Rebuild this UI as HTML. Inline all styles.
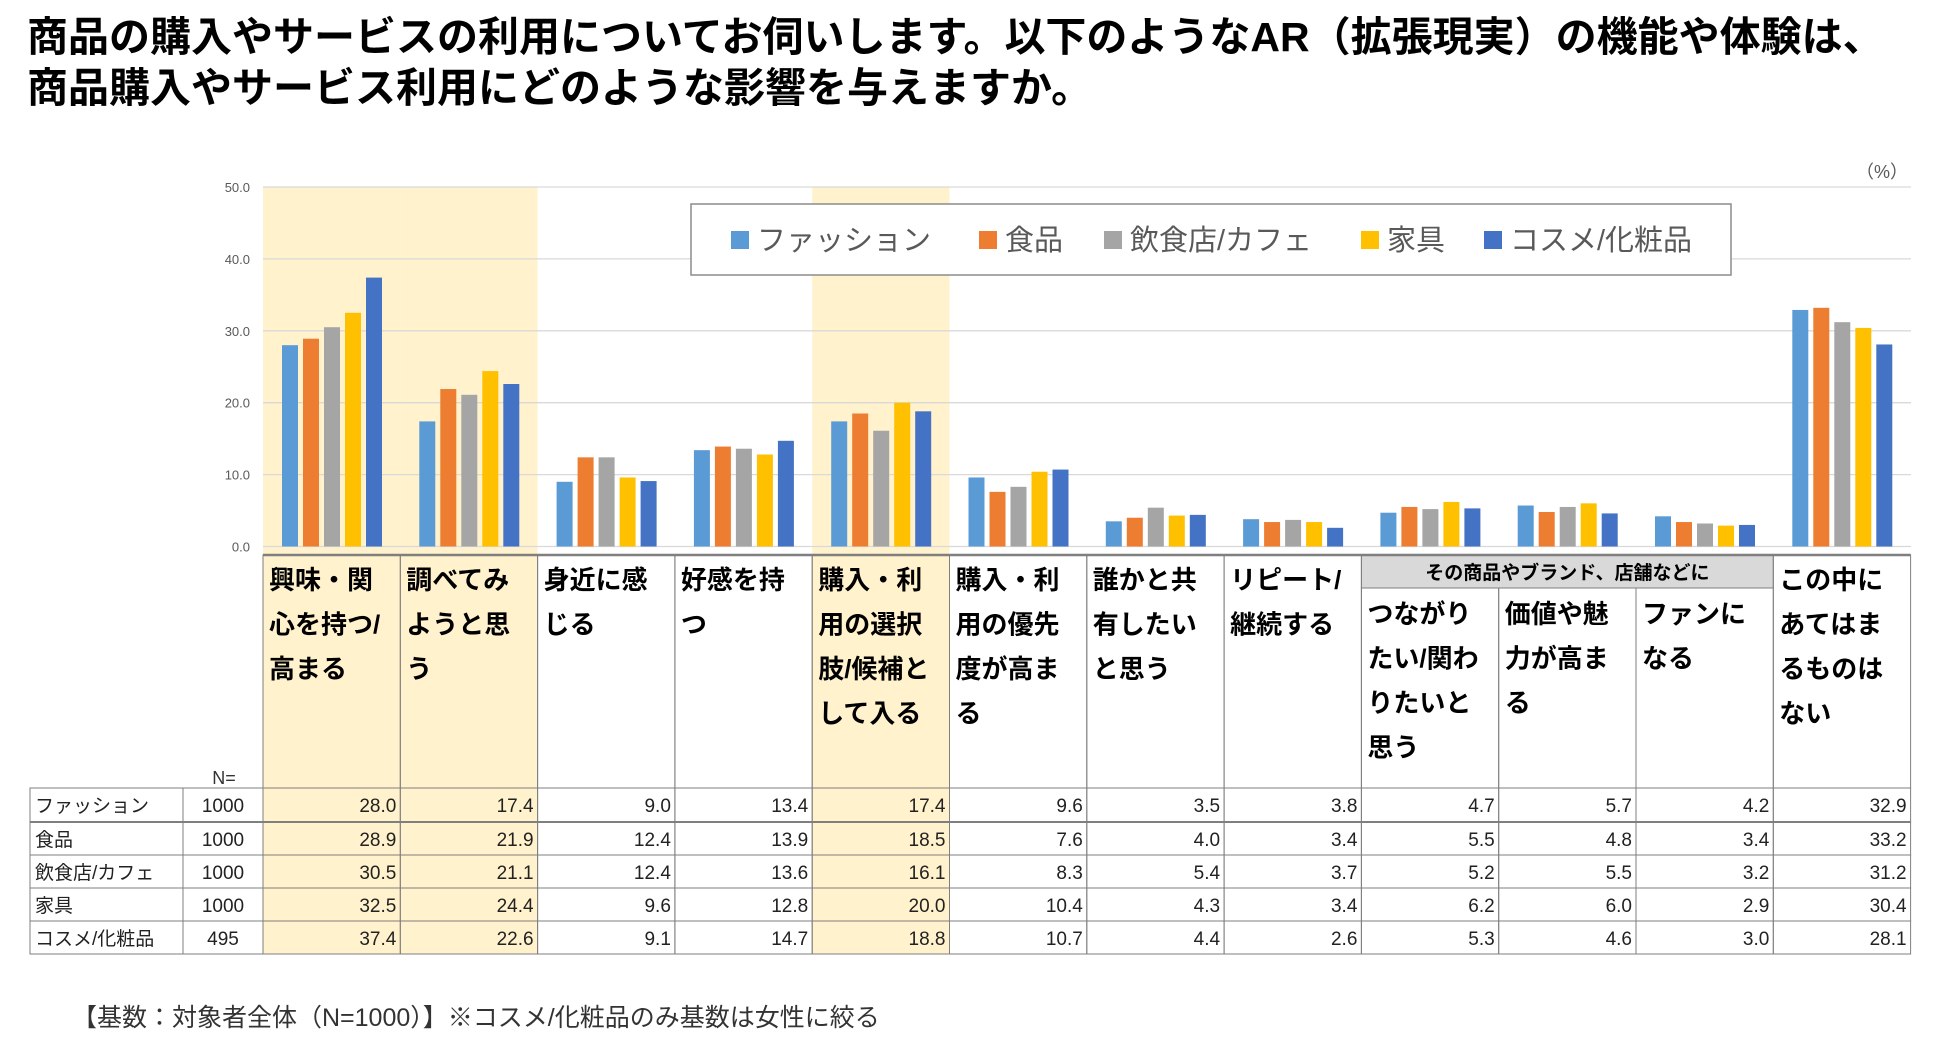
<!DOCTYPE html>
<html><head><meta charset="utf-8"><style>
body{margin:0;background:#fff;}
svg{display:block;font-family:"Liberation Sans","Noto Sans CJK JP",sans-serif;}
</style></head><body>
<svg id="c" width="1950" height="1043" viewBox="0 0 1950 1043" xmlns="http://www.w3.org/2000/svg">
<text x="27" y="51" font-size="41" font-weight="bold" fill="#000">商品の購入やサービスの利用についてお伺いします。以下のようなAR（拡張現実）の機能や体験は、</text>
<text x="27" y="102" font-size="41" font-weight="bold" fill="#000">商品購入やサービス利用にどのような影響を与えますか。</text>
<text x="1908" y="178" font-size="18" fill="#595959" text-anchor="end">（%）</text>
<g id="bg"></g><g id="grid"></g><g id="bars"></g><g id="table"></g>
<g>
<rect x="691" y="204" width="1040" height="71" fill="#fff" stroke="#8c8c8c" stroke-width="1.5"/>
<g id="legend"></g>
</g>
<text x="72" y="1026" font-size="25" fill="#333">【基数：対象者全体（N=1000）】※コスメ/化粧品のみ基数は女性に絞る</text>
</svg>
<script>
const categories=["興味・関心を持つ/高まる","調べてみようと思う","身近に感じる","好感を持つ","購入・利用の選択肢/候補として入る","購入・利用の優先度が高まる","誰かと共有したいと思う","リピート/継続する","つながりたい/関わりたいと思う","価値や魅力が高まる","ファンになる","この中にあてはまるものはない"];
const headerLines=[["興味・関","心を持つ/","高まる"],["調べてみ","ようと思","う"],["身近に感","じる"],["好感を持","つ"],["購入・利","用の選択","肢/候補と","して入る"],["購入・利","用の優先","度が高ま","る"],["誰かと共","有したい","と思う"],["リピート/","継続する"],["つながり","たい/関わ","りたいと","思う"],["価値や魅","力が高ま","る"],["ファンに","なる"],["この中に","あてはま","るものは","ない"]];
const seriesNames=["ファッション","食品","飲食店/カフェ","家具","コスメ/化粧品"];
const seriesN=[1000,1000,1000,1000,495];
const fashion=[28.0,17.4,9.0,13.4,17.4,9.6,3.5,3.8,4.7,5.7,4.2,32.9];
const food=[28.9,21.9,12.4,13.9,18.5,7.6,4.0,3.4,5.5,4.8,3.4,33.2];
const cafe=[30.5,21.1,12.4,13.6,16.1,8.3,5.4,3.7,5.2,5.5,3.2,31.2];
const furniture=[32.5,24.4,9.6,12.8,20.0,10.4,4.3,3.4,6.2,6.0,2.9,30.4];
const cosme=[37.4,22.6,9.1,14.7,18.8,10.7,4.4,2.6,5.3,4.6,3.0,28.1];
const yTicks=[0,10,20,30,40,50];
const highlighted=[0,1,4];
const groupLabel="その商品やブランド、店舗などに";
const groupCols=[8,9,10];

const series=[fashion,food,cafe,furniture,cosme];
const colors=["#5B9BD5","#ED7D31","#A5A5A5","#FFC000","#4472C4"];
const NS="http://www.w3.org/2000/svg";
const X0=263,CW=137.3,Y0=546.5,Y50=187;
const yScale=v=>Y0-(v/50)*(Y0-Y50);
const xCol=i=>X0+i*CW;
const TT=555,RH=[788,822,855,888,921,954];
function mk(tag,attrs,parent,txt){const e=document.createElementNS(NS,tag);for(const k in attrs)e.setAttribute(k,attrs[k]);if(txt!==undefined)e.textContent=txt;parent.appendChild(e);return e;}
const bg=document.getElementById('bg'),grid=document.getElementById('grid'),bars=document.getElementById('bars'),tbl=document.getElementById('table'),leg=document.getElementById('legend');
highlighted.forEach(i=>{
 const r=mk('rect',{x:xCol(i),y:Y50,width:CW,height:RH[5]-Y50,fill:"#FFF2CC"},bg);
 
 
});
yTicks.forEach(t=>{
 const y=yScale(t);
 const l=mk('line',{x1:X0,x2:1911,y1:y,y2:y,stroke:"#d9d9d9","stroke-width":1.3},grid);
 
 
 const tx=mk('text',{x:250,y:y+5,"font-size":13,fill:"#595959","text-anchor":"end"},grid,t.toFixed(1));
 
 
});
categories.forEach((c,i)=>{
 series.forEach((s,k)=>{
  const y=yScale(s[i]);
  const r=mk('rect',{x:xCol(i)+19+k*21,y:y,width:16,height:Y0-y,fill:colors[k]},bars);
  
  
 });
});
const gx=xCol(groupCols[0]),gw=CW*groupCols.length;
const gr=mk('rect',{x:gx,y:TT,width:gw,height:33,fill:"#D9D9D9",stroke:"#7f7f7f","stroke-width":1},tbl);


const gt=mk('text',{x:gx+gw/2,y:TT+24,"font-size":19,"font-weight":"bold",fill:"#000","text-anchor":"middle"},tbl,groupLabel);


categories.forEach((c,i)=>{
 const inG=groupCols.includes(i);
 const top=inG?TT+33:TT;
 const r=mk('rect',{x:xCol(i),y:top,width:CW,height:RH[0]-top,fill:"none",stroke:"#7f7f7f","stroke-width":1},tbl);
 
 
 headerLines[i].forEach((ln,j)=>{
  const t=mk('text',{x:xCol(i)+6,y:(inG?623:589)+j*44.5,"font-size":26,"font-weight":"bold",fill:"#000"},tbl,ln);
  
  
 });
});
const tl=mk('line',{x1:X0,x2:xCol(12),y1:TT,y2:TT,stroke:"#7f7f7f","stroke-width":2.5},tbl);


const nl=mk('text',{x:224,y:784,"font-size":18,fill:"#333","text-anchor":"middle"},tbl,"N=");


seriesNames.forEach((nm,k)=>{
 const y=RH[k],h=RH[k+1]-RH[k];
 const cells=[[30,153],[183,80]];
 cells.forEach(([x,w])=>{const r=mk('rect',{x:x,y:y,width:w,height:h,fill:"none",stroke:"#7f7f7f","stroke-width":1},tbl);
  
  });
 const a=mk('text',{x:35,y:y+24,"font-size":19,fill:"#222"},tbl,nm);
 
 
 const b=mk('text',{x:223,y:y+24,"font-size":19,fill:"#222","text-anchor":"middle"},tbl,String(seriesN[k]));
 
 
 categories.forEach((c,i)=>{
  const r=mk('rect',{x:xCol(i),y:y,width:CW,height:h,fill:"none",stroke:"#7f7f7f","stroke-width":1},tbl);
  
  
  const t=mk('text',{x:xCol(i)+CW-4,y:y+24,"font-size":19,fill:"#222","text-anchor":"end"},tbl,series[k][i].toFixed(1));
  
  
 });
});
const sep=mk('line',{x1:30,x2:xCol(12),y1:RH[1],y2:RH[1],stroke:"#7f7f7f","stroke-width":2},tbl);


const lx=[731,979,1104,1361,1484];
seriesNames.forEach((nm,k)=>{
 const r=mk('rect',{x:lx[k],y:231,width:18,height:18,fill:colors[k]},leg);
 
 
 const t=mk('text',{x:lx[k]+26,y:250,"font-size":29,fill:"#595959"},leg,nm);
 
 
});
</script>
</body></html>
